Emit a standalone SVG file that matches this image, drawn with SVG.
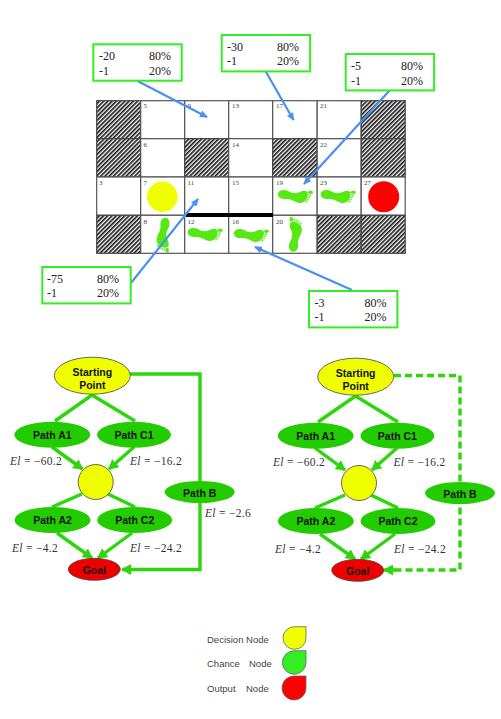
<svg xmlns="http://www.w3.org/2000/svg" xmlns:xlink="http://www.w3.org/1999/xlink" width="501" height="719" viewBox="0 0 501 719">
<style>
.cell{fill:#fff;stroke:#555;stroke-width:1.2}
.hatch{fill:url(#h);stroke:#444;stroke-width:1.2}
.num{font:7px "Liberation Serif",serif;fill:#444}
.box{fill:#fff;stroke:#33ee22;stroke-width:2}
.val{font:12px "Liberation Serif",serif;fill:#222}
.blue{stroke:#4a90f0;stroke-width:2.2;fill:none;marker-end:url(#ba)}
.g{stroke:#2bd60a;stroke-width:3.4;fill:none}
.ga{stroke:#2bd60a;stroke-width:3.4;fill:none;marker-end:url(#ga)}
.gd{stroke:#2bd60a;stroke-width:3.4;fill:none;stroke-dasharray:7 4}
.ch{fill:#22cc00}
.dec{fill:#f0ff00;stroke:#444;stroke-width:.8}
.out{fill:#ee0000;stroke:#444;stroke-width:.8}
.lab{font:bold 10.5px "Liberation Sans",sans-serif;fill:#111;text-anchor:middle}
.el{font:11.500px "Liberation Serif",serif;fill:#333;letter-spacing:.3px}
.el tspan{font-style:italic}
.leg{font:9.500px "Liberation Sans",sans-serif;fill:#444}
.lshape{stroke:#666;stroke-width:.8}
</style>
<defs>
<pattern id="h" width="3" height="3" patternUnits="userSpaceOnUse" patternTransform="rotate(-45)">
<rect width="3" height="3" fill="#fff"/><rect width="3" height="1.6" fill="#111"/>
</pattern>
<marker id="ba" markerWidth="8" markerHeight="7" refX="7" refY="3.500" orient="auto" markerUnits="userSpaceOnUse"><path d="M0 0L8 3.500L0 7Z" fill="#4a90f0"/></marker>
<marker id="ga" markerWidth="10" markerHeight="11" refX="9" refY="5.500" orient="auto" markerUnits="userSpaceOnUse"><path d="M0 0L10 5.500L0 11Z" fill="#2bd60a"/></marker>
<g id="foot">
<path d="M0 4.500C1 .5 7 0 11 2.500C15 5 19 4.500 23 2.500C26 1 30 1.500 30 5C30 9 27 14 22 14C17 13.500 14 10 9 10C4 10.500 -.5 9 0 4.500Z" fill="#55e812"/>
<ellipse cx="32.500" cy="3.300" rx="2.500" ry="1.700" fill="#55e812"/>
<ellipse cx="32" cy="6.200" rx="1.400" ry="1" fill="#7cf04a"/>
<ellipse cx="31" cy="8.300" rx="1.400" ry="1" fill="#7cf04a"/>
<ellipse cx="29.800" cy="10.400" rx="1.400" ry="1" fill="#7cf04a"/>
<ellipse cx="28.300" cy="12.500" rx="1.400" ry="1" fill="#7cf04a"/>
</g>
</defs>
<rect width="501" height="719" fill="#fff"/>
<g id="grid">
<rect class="hatch" x="96.700" y="100.700" width="44" height="38"/>
<rect class="cell" x="140.700" y="100.700" width="44" height="38"/>
<rect class="cell" x="184.700" y="100.700" width="44" height="38"/>
<rect class="cell" x="228.700" y="100.700" width="44" height="38"/>
<rect class="cell" x="272.700" y="100.700" width="44.500" height="38"/>
<rect class="cell" x="317.200" y="100.700" width="44" height="38"/>
<rect class="hatch" x="361.200" y="100.700" width="44" height="38"/>
<rect class="hatch" x="96.700" y="138.700" width="44" height="38.300"/>
<rect class="cell" x="140.700" y="138.700" width="44" height="38.300"/>
<rect class="hatch" x="184.700" y="138.700" width="44" height="38.300"/>
<rect class="cell" x="228.700" y="138.700" width="44" height="38.300"/>
<rect class="hatch" x="272.700" y="138.700" width="44.500" height="38.300"/>
<rect class="cell" x="317.200" y="138.700" width="44" height="38.300"/>
<rect class="hatch" x="361.200" y="138.700" width="44" height="38.300"/>
<rect class="cell" x="96.700" y="177" width="44" height="38.300"/>
<rect class="cell" x="140.700" y="177" width="44" height="38.300"/>
<rect class="cell" x="184.700" y="177" width="44" height="38.300"/>
<rect class="cell" x="228.700" y="177" width="44" height="38.300"/>
<rect class="cell" x="272.700" y="177" width="44.500" height="38.300"/>
<rect class="cell" x="317.200" y="177" width="44" height="38.300"/>
<rect class="cell" x="361.200" y="177" width="44" height="38.300"/>
<rect class="hatch" x="96.700" y="215.300" width="44" height="38"/>
<rect class="cell" x="140.700" y="215.300" width="44" height="38"/>
<rect class="cell" x="184.700" y="215.300" width="44" height="38"/>
<rect class="cell" x="228.700" y="215.300" width="44" height="38"/>
<rect class="cell" x="272.700" y="215.300" width="44.500" height="38"/>
<rect class="hatch" x="317.200" y="215.300" width="44" height="38"/>
<rect class="hatch" x="361.200" y="215.300" width="44" height="38"/>
<rect x="186" y="213" width="87" height="4" fill="#000"/>
<text class="num" x="143.500" y="108">5</text><text class="num" x="187.500" y="108">9</text><text class="num" x="232" y="108">13</text><text class="num" x="276" y="108">17</text><text class="num" x="320" y="108">21</text>
<text class="num" x="143.500" y="147">6</text><text class="num" x="232" y="147">14</text><text class="num" x="320" y="147">22</text>
<text class="num" x="99" y="185">3</text><text class="num" x="143.500" y="185">7</text><text class="num" x="187.500" y="185">11</text><text class="num" x="232" y="185">15</text><text class="num" x="276" y="185">19</text><text class="num" x="320" y="185">23</text><text class="num" x="364" y="185">27</text>
<text class="num" x="143.500" y="224">8</text><text class="num" x="187.500" y="224">12</text><text class="num" x="232" y="224">16</text><text class="num" x="276" y="224">20</text>
<circle cx="162.300" cy="196.700" r="15.300" fill="#f0ff00"/>
<circle cx="383.700" cy="196.700" r="15.500" fill="#f00"/>
<use href="#foot" transform="translate(278 189)"/>
<use href="#foot" transform="translate(320.700 189)"/>
<use href="#foot" transform="translate(187.700 227)"/>
<use href="#foot" transform="translate(234 228)"/>
<use href="#foot" transform="translate(170.500 217.700)  rotate(90)"/>
<use href="#foot" transform="translate(288 251.700) rotate(-90)"/>
</g>
<g id="connectors">
<path class="blue" d="M137 80.700L207 117"/>
<path class="blue" d="M265.500 71L293.500 120"/>
<path class="blue" d="M390 90L304 184"/>
<path class="blue" d="M131 283L198 199"/>
<path class="blue" d="M352 290L255 247"/>
<path class="g" d="M92 395L55 421M92 395L135 421"/>
<path class="ga" d="M52 447L82.500 469"/>
<path class="ga" d="M134 447L109 469"/>
<path class="g" d="M82 494L52 507M108 494L135 507"/>
<path class="ga" d="M57 533L92 558"/>
<path class="ga" d="M132 533L98 558"/>
<path class="ga" d="M130 374H200V569.500H122"/>
<path class="g" d="M355.500 396L318 422M355.500 396L398 422"/>
<path class="ga" d="M315 448L345 470"/>
<path class="ga" d="M397 448L372 470"/>
<path class="g" d="M345 495L315 508M371 495L398 508"/>
<path class="ga" d="M320 534L355 559"/>
<path class="ga" d="M395 534L361 559"/>
<path class="gd" d="M394 375.500H460V570H392"/>
<path class="ga" d="M396 570H384"/>
</g>
<g id="box1"><rect class="box" x="93.300" y="44.300" width="88.400" height="36.400"/><text class="val" x="99" y="60">-20</text><text class="val" x="149" y="60">80%</text><text class="val" x="99" y="75">-1</text><text class="val" x="149" y="75">20%</text></g>
<g id="box2"><rect class="box" x="221.700" y="35" width="88.400" height="36.400"/><text class="val" x="227" y="50.500">-30</text><text class="val" x="277" y="50.500">80%</text><text class="val" x="227" y="65">-1</text><text class="val" x="277" y="65">20%</text></g>
<g id="box3"><rect class="box" x="345.700" y="54" width="88.400" height="36.400"/><text class="val" x="351" y="70">-5</text><text class="val" x="401" y="70">80%</text><text class="val" x="351" y="84.500">-1</text><text class="val" x="401" y="84.500">20%</text></g>
<g id="box4"><rect class="box" x="42.300" y="267" width="88.400" height="36.400"/><text class="val" x="47" y="282.500">-75</text><text class="val" x="97" y="282.500">80%</text><text class="val" x="47" y="297">-1</text><text class="val" x="97" y="297">20%</text></g>
<g id="box5"><rect class="box" x="309" y="291" width="88.400" height="36.400"/><text class="val" x="314.500" y="306.500">-3</text><text class="val" x="364.500" y="306.500">80%</text><text class="val" x="314.500" y="321">-1</text><text class="val" x="364.500" y="321">20%</text></g>
<g id="left-start"><ellipse class="dec" cx="92.300" cy="375.700" rx="38" ry="18.500"/><text class="lab" x="92.300" y="376">Starting</text><text class="lab" x="92.300" y="389">Point</text></g>
<g id="left-a1"><ellipse class="ch" cx="52.300" cy="434.700" rx="38" ry="13"/><text class="lab" x="52.300" y="438.500">Path A1</text></g>
<g id="left-c1"><ellipse class="ch" cx="134" cy="434.700" rx="37" ry="13"/><text class="lab" x="134" y="438.500">Path C1</text></g>
<g id="left-mid"><circle class="dec" cx="95.700" cy="482" r="17.500"/></g>
<g id="left-a2"><ellipse class="ch" cx="52.500" cy="520" rx="38" ry="13"/><text class="lab" x="52.500" y="524">Path A2</text></g>
<g id="left-c2"><ellipse class="ch" cx="134.700" cy="520" rx="37.500" ry="13"/><text class="lab" x="134.700" y="524">Path C2</text></g>
<g id="left-goal"><ellipse class="out" cx="94.300" cy="569.300" rx="26" ry="11"/><text class="lab" x="94.300" y="574">Goal</text></g>
<g id="left-b"><ellipse class="ch" cx="199.700" cy="492" rx="35" ry="11"/><text class="lab" x="199.700" y="497">Path B</text></g>
<g id="right-start"><ellipse class="dec" cx="355.700" cy="376.700" rx="38" ry="18.500"/><text class="lab" x="355.700" y="377">Starting</text><text class="lab" x="355.700" y="390">Point</text></g>
<g id="right-a1"><ellipse class="ch" cx="315.700" cy="435.700" rx="38" ry="13"/><text class="lab" x="315.700" y="439.500">Path A1</text></g>
<g id="right-c1"><ellipse class="ch" cx="397.400" cy="435.700" rx="37" ry="13"/><text class="lab" x="397.400" y="439.500">Path C1</text></g>
<g id="right-mid"><circle class="dec" cx="359" cy="483" r="17.500"/></g>
<g id="right-a2"><ellipse class="ch" cx="315.900" cy="521" rx="38" ry="13"/><text class="lab" x="315.900" y="525">Path A2</text></g>
<g id="right-c2"><ellipse class="ch" cx="398" cy="521" rx="37.500" ry="13"/><text class="lab" x="398" y="525">Path C2</text></g>
<g id="right-goal"><ellipse class="out" cx="357.700" cy="570.300" rx="26" ry="11"/><text class="lab" x="357.700" y="575">Goal</text></g>
<g id="right-b"><ellipse class="ch" cx="460" cy="493" rx="35" ry="11"/><text class="lab" x="460" y="498">Path B</text></g>
<g id="el-labels">
<text class="el" x="10" y="465"><tspan>El</tspan> = −60.2</text>
<text class="el" x="130" y="465"><tspan>El</tspan> = −16.2</text>
<text class="el" x="12" y="552"><tspan>El</tspan> = −4.2</text>
<text class="el" x="130" y="552"><tspan>El</tspan> = −24.2</text>
<text class="el" x="205" y="517"><tspan>El</tspan> = −2.6</text>
<text class="el" x="273" y="466"><tspan>El</tspan> = −60.2</text>
<text class="el" x="393.500" y="466"><tspan>El</tspan> = −16.2</text>
<text class="el" x="275" y="553"><tspan>El</tspan> = −4.2</text>
<text class="el" x="394" y="553"><tspan>El</tspan> = −24.2</text>
</g>
<g id="legend">
<text class="leg" x="207" y="643">Decision Node</text>
<text class="leg" x="207" y="667">Chance</text><text class="leg" x="249" y="667">Node</text>
<text class="leg" x="207" y="692">Output</text><text class="leg" x="246" y="692">Node</text>
<path class="lshape" fill="#f0ff00" d="M306 626.700V638A11.500 11.300 0 1 1 294.500 626.700Z"/>
<path class="lshape" fill="#33ee22" d="M306 650.700V662.500A11.800 11.800 0 1 1 294.200 650.700Z"/>
<path class="lshape" fill="#f00" d="M306 676V688A12 12 0 1 1 294 676Z"/>
</g>
</svg>
